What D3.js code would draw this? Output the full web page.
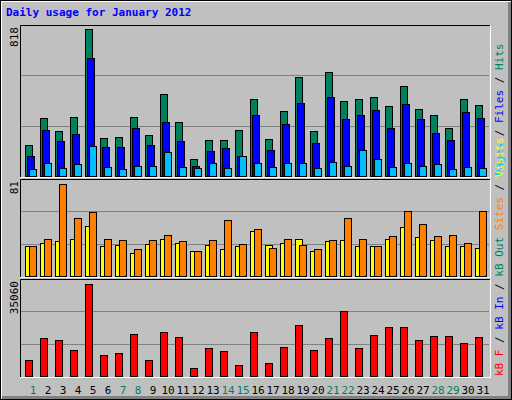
<!DOCTYPE html>
<html>
<head>
<meta charset="utf-8">
<script src="https://cdn.jsdelivr.net/npm/d3@7"></script>
<style>body{margin:0;background:#fff}svg{display:block}</style>
</head>
<body>
<div id="chart"></div>
<script>
// Daily usage, January 2012
const days = d3.range(1, 32)
const weekend = [1, 7, 8, 14, 15, 21, 22, 28, 29]
const hits = [174,324,252,329,818,213,218,329,229,457,302,96,202,202,257,429,207,363,552,252,579,418,429,440,391,502,374,341,268,429,396]
const files = [113,257,196,235,657,163,163,268,174,302,196,57,141,157,113,341,146,291,407,185,440,318,341,368,268,402,318,241,202,357,324]
const pages = [41,74,46,68,168,52,41,57,57,135,52,46,74,46,113,74,52,74,74,46,80,57,146,96,52,74,57,68,41,52,46]
const visits = [26,29,31,33,44,26,27,20,28,33,29,22,27,24,26,40,27,29,33,22,31,32,26,26,33,43,34,32,26,26,25]
const sites = [26,33,81,51,56,33,32,24,32,36,31,22,32,49,28,41,25,33,27,24,32,51,33,26,35,57,46,35,36,29,57]
const kbytes = [6270,14340,13570,9730,35060,8190,8580,15870,6270,16640,14720,3200,10500,9340,4350,16640,5120,10880,19330,9730,14340,24700,10500,15490,18560,18560,13570,15100,15100,12420,14720]

const width = 512, height = 400
const font = 'DejaVu Sans Mono, monospace'

const svg = d3.select('#chart').append('svg')
  .attr('width', width).attr('height', height)

// frame
svg.append('rect').attr('x', 0).attr('y', 0).attr('width', width).attr('height', height).attr('fill', '#000')
svg.append('rect').attr('x', 1).attr('y', 1).attr('width', width - 2).attr('height', height - 2).attr('fill', '#fff')
svg.append('rect').attr('x', 2).attr('y', 2).attr('width', width - 3).attr('height', height - 3).attr('fill', '#808080')
svg.append('rect').attr('x', 2).attr('y', 2).attr('width', width - 6).attr('height', height - 6).attr('fill', '#c0c0c0')

svg.append('text').attr('x', 6).attr('y', 16)
  .attr('font-family', font).attr('font-size', 11).attr('font-weight', 'bold')
  .attr('fill', '#0000ff').text('Daily usage for January 2012')

const x = d3.scaleLinear().domain([1, 31]).range([25, 475])

const panels = [
  { top: 25, base: 176, bottom: 178, max: 818, label: '818', top0: 29 },
  { top: 179, base: 276, bottom: 278, max: 81, label: '81', top0: 184 },
  { top: 279, base: 376, bottom: 378, max: 35060, label: '35060', top0: 284 }
]

panels.forEach(p => {
  p.y = d3.scaleLinear().domain([0, p.max]).range([p.base, p.top0])
  const g = svg.append('g')
  g.append('rect').attr('x', 20).attr('y', p.top).attr('width', 470).attr('height', p.bottom - p.top)
    .attr('fill', '#c0c0c0')
  // grid lines
  const step = (p.base - p.top) / 3
  ;[1, 2].forEach(i => {
    g.append('line').attr('x1', 21).attr('x2', 489)
      .attr('y1', Math.round(p.base - step * i) + 0.5).attr('y2', Math.round(p.base - step * i) + 0.5)
      .attr('stroke', '#808080')
  })
  g.append('path').attr('d', `M20.5,${p.bottom}V${p.top + 0.5}H490`).attr('stroke', '#000').attr('fill', 'none')
  g.append('path').attr('d', `M490.5,${p.top}V${p.bottom - 0.5}H20`).attr('stroke', '#fff').attr('fill', 'none')
  g.append('text').attr('transform', `translate(18,${p.top + 2}) rotate(-90)`)
    .attr('text-anchor', 'end').attr('font-family', font).attr('font-size', 11).text(p.label)
})

function bars(data, panel, dx, w, color) {
  svg.append('g').selectAll('rect').data(data).enter().append('rect')
    .attr('x', (d, i) => x(days[i]) + dx + 0.5)
    .attr('y', d => Math.round(panel.y(d)) + 0.5)
    .attr('width', w)
    .attr('height', d => panel.base - Math.round(panel.y(d)))
    .attr('fill', color).attr('stroke', '#000')
}

bars(hits, panels[0], 0, 7, '#00805c')
bars(files, panels[0], 2, 7, '#0000ff')
bars(pages, panels[0], 4, 7, '#00c0ff')
bars(visits, panels[1], 0, 7, '#ffff00')
bars(sites, panels[1], 4, 7, '#ff8000')
bars(kbytes, panels[2], 0, 7, '#ff0000')

// day labels
svg.append('g').selectAll('text').data(days).enter().append('text')
  .attr('x', d => x(d) + 8).attr('y', 394)
  .attr('text-anchor', 'middle').attr('font-family', font).attr('font-size', 11)
  .attr('fill', d => weekend.includes(d) ? '#00805c' : '#000')
  .text(d => d)

// side legends
function legend(parts, yStart) {
  const t = svg.append('text').attr('transform', `translate(503,${yStart}) rotate(-90)`)
    .attr('font-family', font).attr('font-size', 11)
  parts.forEach(([s, c]) => t.append('tspan').attr('fill', c).text(s))
}
legend([['Pages', '#00c0ff'], [' / ', '#000'], ['Files', '#0000ff'], [' / ', '#000'], ['Hits', '#00805c']], 176)
legend([['kB F', '#ff0000'], [' / ', '#000'], ['kB In', '#0000ff'], [' / ', '#000'], ['kB Out', '#00805c'], [' ', '#000'], ['Sites', '#ff8000'], [' / ', '#000'], ['Visits', '#ffff00']], 376)
</script>
</body>
</html>
